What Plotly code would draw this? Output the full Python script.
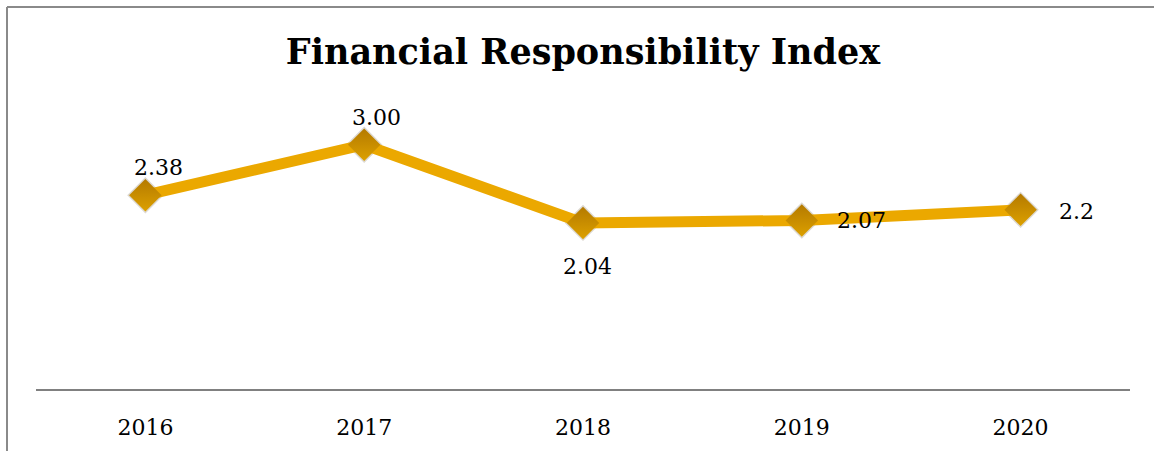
import plotly.graph_objects as go

years = ["2016", "2017", "2018", "2019", "2020"]
values = [2.38, 3.00, 2.04, 2.07, 2.2]
labels = ["2.38", "3.00", "2.04", "2.07", "2.2"]
title_text = "Financial Responsibility Index"

# label offsets (pixels) relative to each marker
label_dx = [13, 12, 4, 60, 56]
label_dy = [28, 27, -44, 0, -2]

FONT = "DejaVu Serif"
W, H = 1154, 451
ML, MR, MT, MB = 36, 24, 104, 62

fig = go.Figure()
# soft shadow under markers
fig.add_trace(go.Scatter(
    x=years, y=values, mode="markers",
    marker=dict(symbol="diamond", size=28, color="rgba(60,40,0,0.18)", line=dict(width=0)),
    hoverinfo="skip", showlegend=False,
))
fig.add_trace(go.Scatter(
    x=years, y=values, mode="lines+markers",
    line=dict(color="#EBA800", width=11),
    marker=dict(symbol="diamond", size=25, color="#B47A00",
                gradient=dict(type="vertical", color="#DCA000"),
                line=dict(width=0)),
    showlegend=False,
))

for i, (v, t, dx, dy) in enumerate(zip(values, labels, label_dx, label_dy)):
    fig.add_annotation(x=i, y=v, xref="x", yref="y", text=t, showarrow=False,
                       xshift=dx, yshift=dy,
                       font=dict(family=FONT, size=22, color="#000000"))

pw = W - ML - MR
ph = H - MT - MB
x0 = (7 - ML) / pw
x1 = (W - ML) / pw
ytop = (H - 7 - MB) / ph
ybot = -MB / ph
fig.add_shape(type="line", xref="paper", yref="paper", x0=x0, x1=x0, y0=ybot, y1=ytop,
              line=dict(color="#8a8a8a", width=2))
fig.add_shape(type="line", xref="paper", yref="paper", x0=x0, x1=x1, y0=ytop, y1=ytop,
              line=dict(color="#8a8a8a", width=2))

fig.update_layout(
    width=W, height=H,
    margin=dict(l=ML, r=MR, t=MT, b=MB),
    paper_bgcolor="white", plot_bgcolor="white",
    title=dict(text="<b>" + title_text + "</b>", x=(ML + pw / 2) / W, xanchor="center",
               y=1 - 52 / H, yanchor="middle", yref="container",
               font=dict(family=FONT, size=35, color="#000000")),
    xaxis=dict(type="category", range=[-0.5, 4.5], showgrid=False, zeroline=False,
               showline=True, linecolor="#808080", linewidth=2, ticks="",
               tickfont=dict(family=FONT, size=22, color="#000000"), ticklabelstandoff=18),
    yaxis=dict(range=[0, 3.5], visible=False, showgrid=False, zeroline=False),
    font=dict(family=FONT),
)

fig.write_html("out.html", config={"displayModeBar": False},
               post_script="document.body.style.margin='0';")
